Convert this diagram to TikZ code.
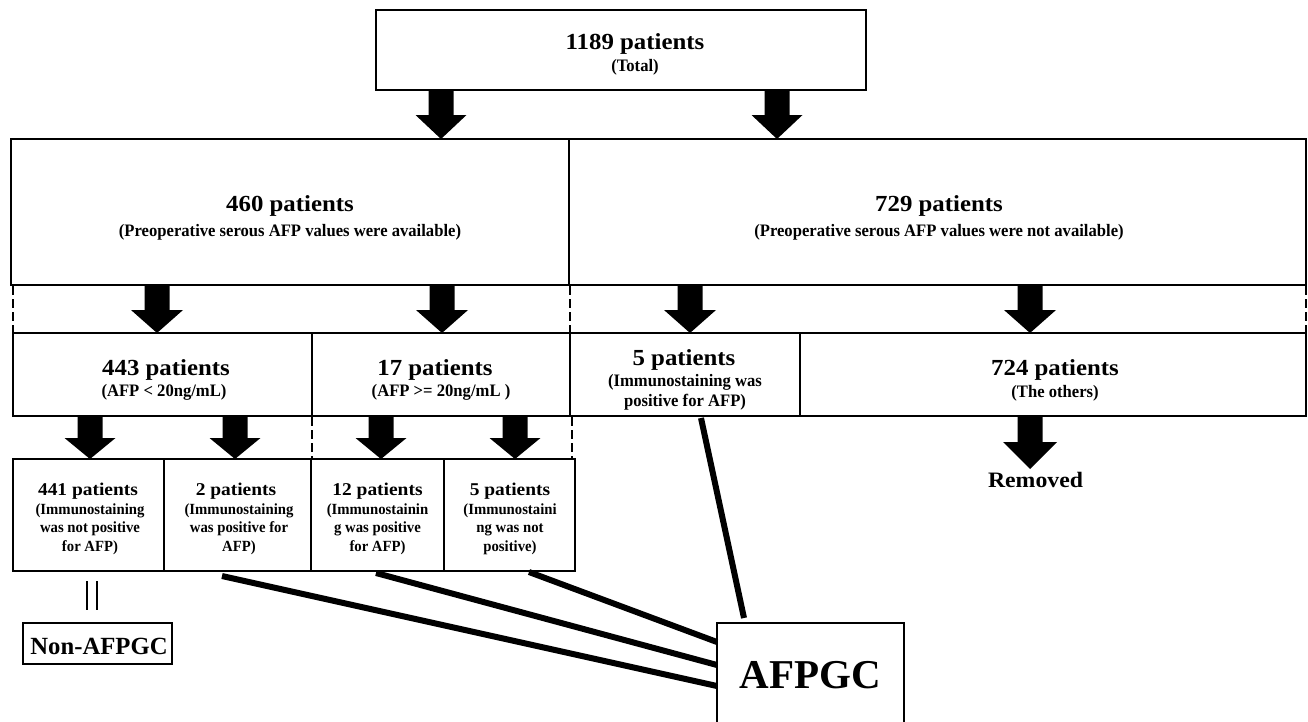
\documentclass[tikz,border=0pt]{standalone}
\usepackage{fontspec}
\setmainfont{Liberation Serif}
\newfontfamily\titlefont{Liberation Serif}[FakeStretch=1.08]
\newfontfamily\subfont{Liberation Serif}[FakeStretch=0.95]
\newcommand{\blockarrow}[5]{% x, ytop, yhead, ytip, head half width
  \fill[black] (#1-12.5,#2) -- (#1+12.5,#2) -- (#1+12.5,#3) -- (#1+#5,#3) -- (#1,#4) -- (#1-#5,#3) -- (#1-12.5,#3) -- cycle;}
\begin{document}
\begin{tikzpicture}[x=1pt,y=-1pt,
  box/.style={draw, line width=1.5pt, inner sep=0pt},
  ttl/.style={anchor=base, inner sep=0pt, font=\titlefont\bfseries\fontsize{23}{25}\selectfont},
  subt/.style={anchor=base, inner sep=0pt, font=\subfont\bfseries\fontsize{17.5}{19}\selectfont},
  sttl/.style={anchor=base, inner sep=0pt, font=\titlefont\bfseries\fontsize{18}{20}\selectfont},
  ssub/.style={anchor=base, inner sep=0pt, font=\subfont\bfseries\fontsize{15.5}{17}\selectfont},
  dashline/.style={line width=2.8pt, dash pattern=on 9pt off 4pt},
  link/.style={line width=6pt},
  eqline/.style={line width=2.5pt}]
\useasboundingbox (0,0) rectangle (1308,721);

% boxes
\node[box, minimum width=490pt, minimum height=80pt] (top) at (621,50) {};
\node[box, minimum width=558pt, minimum height=146pt] (bigL) at (290,212) {};
\node[box, minimum width=737pt, minimum height=146pt] (bigR) at (937.5,212) {};
\node[box, minimum width=299pt, minimum height=83pt] (b443) at (162.5,374.5) {};
\node[box, minimum width=258pt, minimum height=83pt] (b17) at (441,374.5) {};
\node[box, minimum width=230pt, minimum height=83pt] (b5) at (685,374.5) {};
\node[box, minimum width=506pt, minimum height=83pt] (b724) at (1053,374.5) {};
\node[box, minimum width=151pt, minimum height=112pt] (c441) at (88.5,515) {};
\node[box, minimum width=147pt, minimum height=112pt] (c2) at (237.5,515) {};
\node[box, minimum width=133pt, minimum height=112pt] (c12) at (377.5,515) {};
\node[box, minimum width=131pt, minimum height=112pt] (c5) at (509.5,515) {};
\node[box, minimum width=149pt, minimum height=41pt] (non) at (97.5,643.5) {};
\node[box, minimum width=187pt, minimum height=104pt] (afp) at (810.5,675) {};

% texts
\node[ttl] (t1189) at (635,49.5) {1189 patients};
\node[subt] (tTotal) at (635,71) {(Total)};
\node[ttl] (t460) at (290,211.5) {460 patients};
\node[subt] (t460s) at (290,236) {(Preoperative serous AFP values were available)};
\node[ttl] (t729) at (939,211.5) {729 patients};
\node[subt] (t729s) at (939,236) {(Preoperative serous AFP values were not available)};
\node[ttl] (t443) at (166,375) {443 patients};
\node[subt] (t443s) at (164,396.5) {(AFP < 20ng/mL)};
\node[ttl] (t17) at (435,375) {17 patients};
\node[subt] (t17s) at (441,396.5) {(AFP >= 20ng/mL )};
\node[ttl] (t5) at (684,365) {5 patients};
\node[subt] (t5a) at (685,386.5) {(Immunostaining was};
\node[subt] (t5b) at (685,406) {positive for AFP)};
\node[ttl] (t724) at (1055,375) {724 patients};
\node[subt] (t724s) at (1055,397) {(The others)};

\node[sttl] (u441) at (88,495) {441 patients};
\node[ssub] (u441a) at (90,514) {(Immunostaining};
\node[ssub] (u441b) at (90,532.5) {was not positive};
\node[ssub] (u441c) at (90,551) {for AFP)};
\node[sttl] (u2) at (236,495) {2 patients};
\node[ssub] (u2a) at (239,514) {(Immunostaining};
\node[ssub] (u2b) at (239,532.5) {was positive for};
\node[ssub] (u2c) at (239,551) {AFP)};
\node[sttl] (u12) at (377.5,495) {12 patients};
\node[ssub] (u12a) at (377.5,514) {(Immunostainin};
\node[ssub] (u12b) at (377.5,532.5) {g was positive};
\node[ssub] (u12c) at (377.5,551) {for AFP)};
\node[sttl] (u5) at (510,495) {5 patients};
\node[ssub] (u5a) at (510,514) {(Immunostaini};
\node[ssub] (u5b) at (510,532.5) {ng was not};
\node[ssub] (u5c) at (510,551) {positive)};

\node[anchor=base, inner sep=0pt, font=\bfseries\fontsize{24.7}{26}\selectfont] (tnon) at (99,654) {Non-AFPGC};
\node[anchor=base, inner sep=0pt, font=\bfseries\fontsize{41}{44}\selectfont] (tafp) at (810.5,688) {AFPGC};
\node[anchor=base, inner sep=0pt, font=\titlefont\bfseries\fontsize{22}{24}\selectfont] (trem) at (1035.5,487) {Removed};

% block arrows
\blockarrow{441}{90}{115}{139}{25.5}
\blockarrow{777}{90}{115}{139}{25.5}
\blockarrow{157}{285}{310}{333}{26}
\blockarrow{442}{285}{310}{333}{26}
\blockarrow{690}{285}{310}{333}{26}
\blockarrow{1030}{285}{310}{333}{26}
\blockarrow{90}{416}{438}{459}{25.5}
\blockarrow{235}{416}{438}{459}{25.5}
\blockarrow{381}{416}{438}{459}{25.5}
\blockarrow{515}{416}{438}{459}{25.5}
\blockarrow{1030}{416}{442}{469}{27}

% dashed side lines
\draw[dashline] (13,286) -- (13,333);
\draw[dashline] (570,286) -- (570,333);
\draw[dashline] (1306,286) -- (1306,333);
\draw[dashline] (312,417) -- (312,459);
\draw[dashline] (572,417) -- (572,459);

% equality sign
\coordinate (e1) at (87,581);
\coordinate (e2) at (87,610);
\coordinate (e3) at (97,581);
\coordinate (e4) at (97,610);
\draw[eqline] (e1) -- (e2);
\draw[eqline] (e3) -- (e4);

% links to AFPGC
\coordinate (s1) at (222,576);
\coordinate (s2) at (376,573);
\coordinate (s3) at (529,572);
\coordinate (s4) at (701,418);
\coordinate (a1) at (717,686);
\coordinate (a2) at (717,665);
\coordinate (a3) at (717,642);
\coordinate (a4) at (744,618);
\draw[link] (s1) -- (a1);
\draw[link] (s2) -- (a2);
\draw[link] (s3) -- (a3);
\draw[link] (s4) -- (a4);
\end{tikzpicture}
\end{document}
